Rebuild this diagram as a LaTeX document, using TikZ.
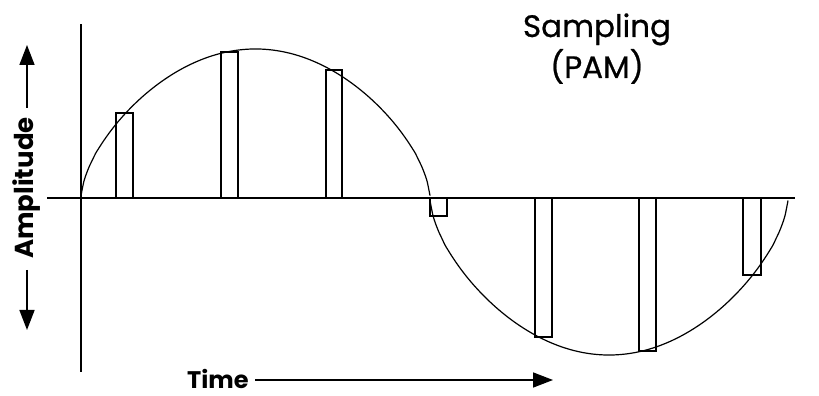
\documentclass[tikz,border=0pt]{standalone}
\usepackage{fontspec}
\setmainfont{Poppins}
\newfontfamily\titlefont[FakeBold=0.7]{Poppins}
\usetikzlibrary{arrows.meta}
\tikzset{
  axisline/.style={line width=1.8pt, line cap=butt},
  sample/.style={line width=1.8pt},
  wave/.style={line width=1.2pt},
  arr/.style={line width=1.6pt, -{Triangle[length=20pt,width=15pt]}},
  titletxt/.style={inner sep=0pt, font=\fontsize{31}{38}\titlefont},
  labeltxt/.style={inner sep=0pt, font=\fontsize{24}{28}\selectfont\bfseries},
}
\begin{document}
\begin{tikzpicture}[x=1pt,y=1pt]
\useasboundingbox (0,0) rectangle (819,396);
\fill[white] (0,0) rectangle (819,396);
% axes
\coordinate (hL) at (47,198);
\coordinate (hR) at (795,198);
\coordinate (vT) at (81,372);
\coordinate (vB) at (81,24);
\draw[axisline] (hL) -- (hR);
\draw[axisline] (vB) -- (vT);
% wave
\draw[wave] plot[domain=0:180, samples=121, smooth] ({81+(\x/180)*349},{198+149*exp(0.6*ln(max(sin(\x),0.001)))});
\draw[wave] plot[domain=0:180, samples=121, smooth] ({430+(\x/180)*358},{198-157*exp(0.6*ln(max(sin(\x),0.001)))});
% samples
\draw[sample] (116,198) rectangle (133,283);
\draw[sample] (221,198) rectangle (238,344);
\draw[sample] (326,198) rectangle (342,326);
\draw[sample] (430,198) rectangle (447,180);
\draw[sample] (535,198) rectangle (552,59);
\draw[sample] (639,198) rectangle (656,45);
\draw[sample] (743,198) rectangle (761,121);
% title
\node[titletxt, anchor=base] (samp) at (597,359) {Sampling};
\node[titletxt, anchor=base] (pam) at (597,318) {(PAM)};
% amplitude
\node[labeltxt, rotate=90, anchor=center, font=\fontsize{26}{30}\selectfont\bfseries] (amp) at (27,208) {Amplitude};
\coordinate (aUs) at (27,288);
\coordinate (aUe) at (27,351);
\coordinate (aDs) at (27,126);
\coordinate (aDe) at (27,66);
\draw[arr] (aUs) -- (aUe);
\draw[arr] (aDs) -- (aDe);
% time
\node[labeltxt, anchor=base west] (time) at (187,7) {Time};
\coordinate (tS) at (255,16);
\coordinate (tE) at (553,16);
\draw[arr] (tS) -- (tE);
\end{tikzpicture}
\end{document}
